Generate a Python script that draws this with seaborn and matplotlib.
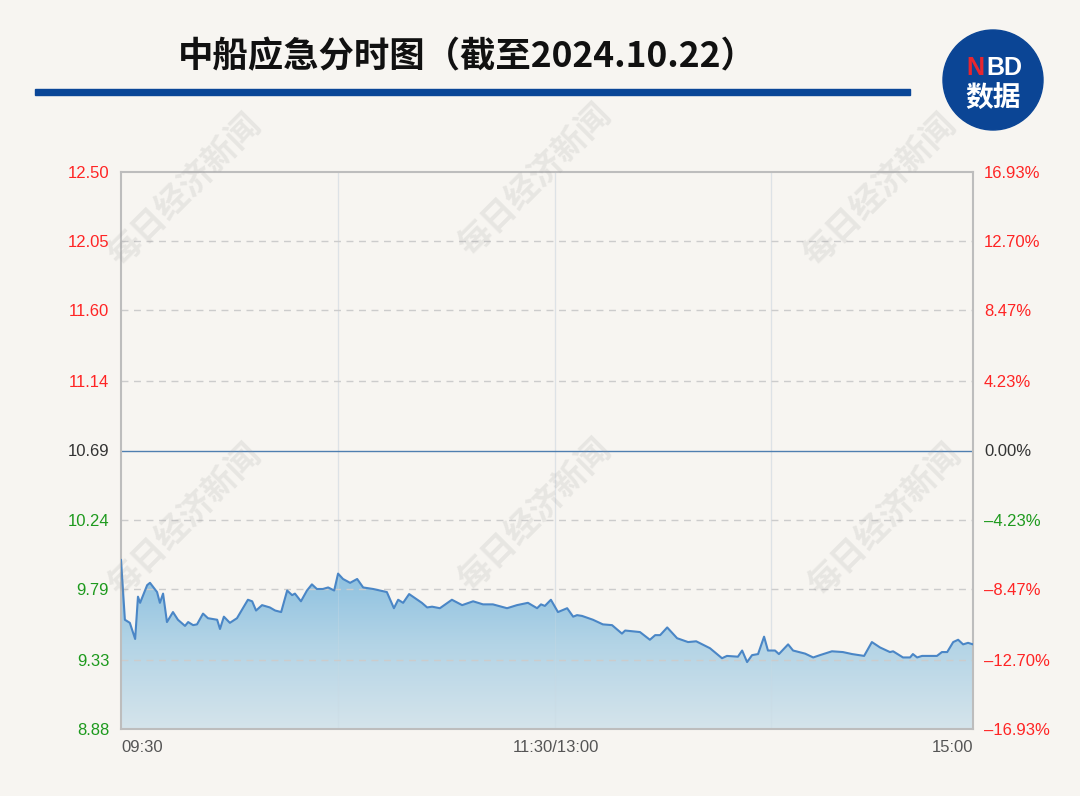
import numpy as np
import pandas as pd
import seaborn as sns
import matplotlib.pyplot as plt
from matplotlib.patches import Circle, Rectangle
from matplotlib.colors import LinearSegmentedColormap

# minute index since 09:30 (0..241) and price
minutes = [0, 1.1, 2.5, 4, 4.8, 5.4, 7.4, 8.2, 10.2, 11, 11.9, 13, 14.7, 16.1, 18.1, 19,
           20.4, 21.5, 23.2, 24.6, 27.2, 28, 29.1, 30.8, 32.8, 35.9, 37.1, 38.2, 39.9,
           42.1, 43.6, 45.3, 47, 48.4, 49.2, 50.9, 52.6, 54, 55.4, 57.1, 58.6, 60.3,
           61.4, 62.8, 64.8, 66.8, 68.5, 71.3, 75.2, 77.2, 78.4, 79.8, 81.5, 85.1, 86.6,
           88, 90.2, 93.6, 96.5, 99.6, 102.4, 105.2, 109.2, 112, 115.1, 117.7, 118.8,
           119.9, 121.6, 123.6, 126.2, 127.9, 129, 130.4, 133.5, 136.3, 138.9, 141.7,
           142.6, 146.8, 149.6, 151.1, 152.5, 154.5, 157.3, 160.4, 162.7, 166.6, 170,
           171.4, 174.5, 175.7, 177.1, 178.5, 180.2, 181.9, 183, 185, 186.1, 188.7,
           190.1, 193.5, 195.8, 197.7, 201.1, 204.2, 206.8, 210.2, 212.4, 214.7, 217.5,
           218.4, 221.2, 223.2, 224, 225.2, 226.6, 230.8, 232.2, 233.7, 235.4, 236.8,
           238.2, 239.6, 241]
prices = [9.98, 9.59, 9.57, 9.465, 9.74, 9.70, 9.815, 9.83, 9.77, 9.70, 9.76, 9.575, 9.64,
          9.59, 9.55, 9.575, 9.555, 9.56, 9.63, 9.60, 9.59, 9.53, 9.61, 9.57, 9.60, 9.72,
          9.71, 9.65, 9.685, 9.67, 9.65, 9.64, 9.78, 9.75, 9.76, 9.71, 9.78, 9.82, 9.79,
          9.79, 9.80, 9.78, 9.89, 9.855, 9.83, 9.855, 9.80, 9.79, 9.77, 9.665, 9.72, 9.70,
          9.757, 9.70, 9.67, 9.675, 9.665, 9.72, 9.685, 9.71, 9.69, 9.69, 9.665, 9.685,
          9.70, 9.665, 9.69, 9.68, 9.72, 9.64, 9.665, 9.61, 9.62, 9.615, 9.59, 9.56, 9.555,
          9.50, 9.52, 9.51, 9.46, 9.49, 9.49, 9.54, 9.47, 9.445, 9.45, 9.405, 9.34, 9.355,
          9.35, 9.39, 9.315, 9.36, 9.367, 9.48, 9.39, 9.39, 9.367, 9.43, 9.39, 9.37, 9.345,
          9.36, 9.385, 9.38, 9.367, 9.355, 9.445, 9.41, 9.38, 9.385, 9.345, 9.345, 9.367,
          9.345, 9.355, 9.355, 9.38, 9.38, 9.445, 9.46, 9.43, 9.44, 9.43]

prev_close = 10.69
price_ticks = [12.50, 12.05, 11.60, 11.14, 10.69, 10.24, 9.79, 9.33, 8.88]
pct_labels = ["16.93%", "12.70%", "8.47%", "4.23%", "0.00%", "–4.23%", "–8.47%", "–12.70%", "–16.93%"]
time_labels = ["09:30", "11:30/13:00", "15:00"]

RED, GREEN, DARK = "#FF2424", "#1E9A1E", "#333333"
left_colors = [RED] * 4 + [DARK] + [GREEN] * 4
right_colors = [RED] * 4 + [DARK, GREEN] + [RED] * 3  # as in the original

df = pd.DataFrame({"minute": minutes, "price": prices})

sns.set_theme(style="white")
plt.rcParams["font.family"] = ["Liberation Sans", "Noto Sans CJK SC", "DejaVu Sans"]
bg = "#F7F5F1"

fig = plt.figure(figsize=(10.8, 7.96), dpi=100, facecolor=bg)
ax = fig.add_axes([121 / 1080, 1 - 729 / 796, 852 / 1080, 557 / 796], facecolor=bg)

# watermarks
for wx, wy in [(185, 190), (535, 180), (880, 190), (185, 520), (535, 515), (885, 520)]:
    fig.text(wx / 1080, 1 - wy / 796, "每日经济新闻", rotation=45, fontsize=24,
             fontweight="bold", color="#9A9A9A", alpha=0.17, ha="center", va="center",
             family=["Noto Sans CJK SC"], zorder=0)

ax.set_xlim(0, 241)
ax.set_ylim(price_ticks[-1], price_ticks[0])

# gradient fill under the line
poly = ax.fill_between(df["minute"], df["price"], price_ticks[-1], color="none", lw=0)
grad = np.linspace(0, 1, 256).reshape(-1, 1)
cmap = LinearSegmentedColormap.from_list("g", ["#D5E4EB", "#B3D4E6", "#86BDDF"])
im = ax.imshow(grad, aspect="auto", cmap=cmap, origin="lower",
               extent=[0, 241, price_ticks[-1], max(prices)], zorder=1)
im.set_clip_path(poly.get_paths()[0], transform=ax.transData)

sns.lineplot(data=df, x="minute", y="price", ax=ax, color="#4A86C6", lw=1.5, zorder=3)

# grid
for t in price_ticks[1:-1]:
    if t == prev_close:
        ax.axhline(t, color="#4F7FB0", lw=1.0, zorder=2)
    else:
        ax.axhline(t, color="#CCCCCC", lw=1.0, ls=(0, (5, 4)), zorder=2)
for gx in [61.3, 122.9, 184]:
    ax.axvline(gx, color="#E8E8E8", lw=1.0, zorder=0.5)
    ax.axvline(gx, color="#C9D9E3", lw=0.8, zorder=1.5, alpha=0.35)

for s in ax.spines.values():
    s.set_color("#BDBDBD")
    s.set_linewidth(1.5)

ax.set_yticks(price_ticks)
ax.set_yticklabels([f"{t:.2f}" for t in price_ticks], fontsize=12)
for lab, c in zip(ax.get_yticklabels(), left_colors):
    lab.set_color(c)
ax.tick_params(axis="y", length=0, pad=8.5)

ax2 = ax.twinx()
ax2.set_ylim(ax.get_ylim())
ax2.set_yticks(price_ticks)
ax2.set_yticklabels(pct_labels, fontsize=12)
for lab, c in zip(ax2.get_yticklabels(), right_colors):
    lab.set_color(c)
ax2.tick_params(axis="y", length=0, pad=8)
for s in ax2.spines.values():
    s.set_visible(False)

ax.set_xticks([0, 122.9, 241])
ax.set_xticklabels(time_labels, fontsize=12, color="#555555")
xl = ax.get_xticklabels()
xl[0].set_ha("left")
xl[2].set_ha("right")
ax.tick_params(axis="x", length=0, pad=8)
ax.set_xlabel("")
ax.set_ylabel("")

# header
fig.text(178 / 1080, 1 - 57 / 796, "中船应急分时图（截至2024.10.22）", fontsize=25.5,
         fontweight="bold", color="#111111", ha="left", va="center",
         family=["Noto Sans CJK SC", "DejaVu Sans"])
fig.patches.append(Rectangle((35 / 1080, 1 - 95 / 796), 875 / 1080, 6 / 796,
                             transform=fig.transFigure, color="#0A4697", zorder=3))
logo = Circle((9.93, 7.96 - 0.80), 0.5, transform=fig.dpi_scale_trans,
              color="#0B4595", zorder=3)
fig.patches.append(logo)
fig.text(975 / 1080, 1 - 68 / 796, "N", fontsize=18, fontweight="bold", color="#E8262F",
         ha="center", va="center", zorder=4, family=["Liberation Sans"])
fig.text(1004 / 1080, 1 - 68 / 796, "BD", fontsize=18, fontweight="bold", color="white",
         ha="center", va="center", zorder=4, family=["Liberation Sans"])
fig.text(993 / 1080, 1 - 99 / 796, "数据", fontsize=20, fontweight="bold", color="white",
         ha="center", va="center", zorder=4, family=["Noto Sans CJK SC"])

fig.savefig("out.png", dpi=100, facecolor=bg)
